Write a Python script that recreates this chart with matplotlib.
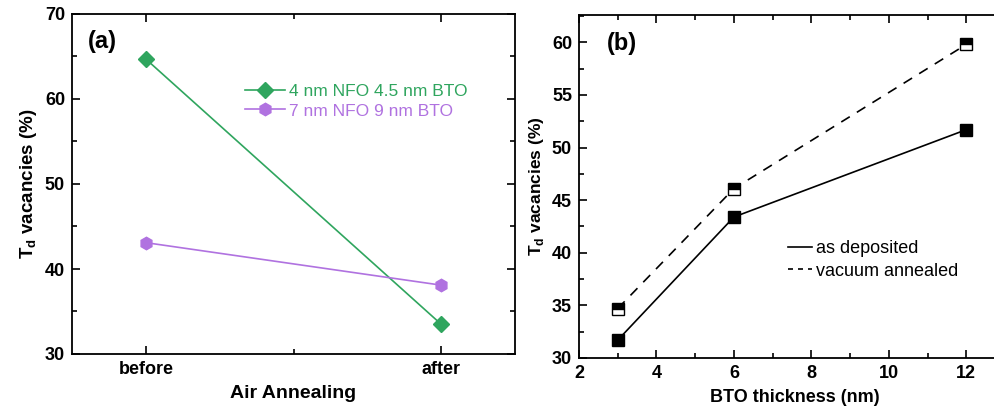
import matplotlib.pyplot as plt
from matplotlib.ticker import MultipleLocator

plt.rcParams['font.family'] = ['Liberation Sans', 'DejaVu Sans']
plt.rcParams['mathtext.fontset'] = 'custom'
plt.rcParams['mathtext.rm'] = 'Liberation Sans'

# panel (a)
stages = ["before", "after"]
nfo4_bto45 = [64.7, 33.5]
nfo7_bto9 = [43.1, 38.1]

# panel (b)
bto_nm = [3, 6, 12]
as_deposited = [31.7, 43.4, 51.7]
vacuum_annealed = [34.7, 46.1, 59.8]

green = "#2fa55e"
purple = "#b072e0"

fig = plt.figure(figsize=(9.95, 4.13), dpi=100)
W, H = 995, 413
ax1 = fig.add_axes([72 / W, 1 - 354 / H, (515 - 72) / W, (354 - 14) / H])
ax2 = fig.add_axes([579 / W, 1 - 358 / H, (1010 - 579) / W, (358 - 15) / H])

xs = list(range(len(stages)))
ax1.plot(xs, nfo4_bto45, color=green, marker="D", ms=8, lw=1.2,
         label="4 nm NFO 4.5 nm BTO")
ax1.plot(xs, nfo7_bto9, color=purple, marker="h", ms=9, lw=1.2,
         label="7 nm NFO 9 nm BTO")
ax1.set_xlim(-0.25, 1.25)
ax1.set_ylim(30, 70)
ax1.set_xticks(xs)
ax1.set_xticklabels(stages)
ax1.xaxis.set_minor_locator(MultipleLocator(0.5))
ax1.yaxis.set_major_locator(MultipleLocator(10))
ax1.yaxis.set_minor_locator(MultipleLocator(5))
ax1.set_xlabel("Air Annealing", fontsize=14, fontweight="bold", labelpad=5)
ax1.set_ylabel(r"T$_\mathregular{d}$ vacancies (%)", fontsize=13.5, fontweight="bold")
ax1.text(0.035, 0.918, "(a)", transform=ax1.transAxes, fontsize=17,
         fontweight="bold", va="center")
leg1 = ax1.legend(loc="upper left", bbox_to_anchor=(0.37, 0.82), frameon=False,
                  fontsize=12.5, handlelength=2.3, handletextpad=0.25,
                  labelspacing=0.25, borderpad=0)
for t, c in zip(leg1.get_texts(), [green, purple]):
    t.set_color(c)

ax2.plot(bto_nm, as_deposited, color="black", marker="s", ms=9, lw=1.2,
         label="as deposited")
ax2.plot(bto_nm, vacuum_annealed, color="black", ls=(0, (6, 5)), lw=1.2,
         marker="s", ms=8, fillstyle="top", markerfacecoloralt="white",
         label="vacuum annealed")
ax2.set_xlim(2, 13.13)
ax2.set_ylim(30, 62.6)
ax2.xaxis.set_major_locator(MultipleLocator(2))
ax2.xaxis.set_minor_locator(MultipleLocator(1))
ax2.yaxis.set_major_locator(MultipleLocator(5))
ax2.yaxis.set_minor_locator(MultipleLocator(2.5))
ax2.set_xlabel("BTO thickness (nm)", fontsize=13, fontweight="bold", labelpad=5)
ax2.set_ylabel(r"T$_\mathregular{d}$ vacancies (%)", fontsize=12.5, fontweight="bold")
ax2.text(0.065, 0.918, "(b)", transform=ax2.transAxes, fontsize=17,
         fontweight="bold", va="center")
handles = [plt.Line2D([], [], color="black", lw=1.2),
           plt.Line2D([], [], color="black", lw=1.2, ls=(0, (3, 3)))]
ax2.legend(handles, ["as deposited", "vacuum annealed"], loc="upper left",
           bbox_to_anchor=(0.465, 0.37), frameon=False, fontsize=13,
           handlelength=1.3, handletextpad=0.2, labelspacing=0.3, borderpad=0)

for ax in (ax1, ax2):
    ax.tick_params(which="both", direction="in", top=True, right=True,
                   width=1.2)
    ax.tick_params(which="major", length=6, labelsize=13, pad=5)
    ax.tick_params(which="minor", length=3.5)
    for lab in ax.get_xticklabels() + ax.get_yticklabels():
        lab.set_fontweight("bold")
    for s in ax.spines.values():
        s.set_linewidth(1.3)

fig.savefig("out.png", dpi=100)
